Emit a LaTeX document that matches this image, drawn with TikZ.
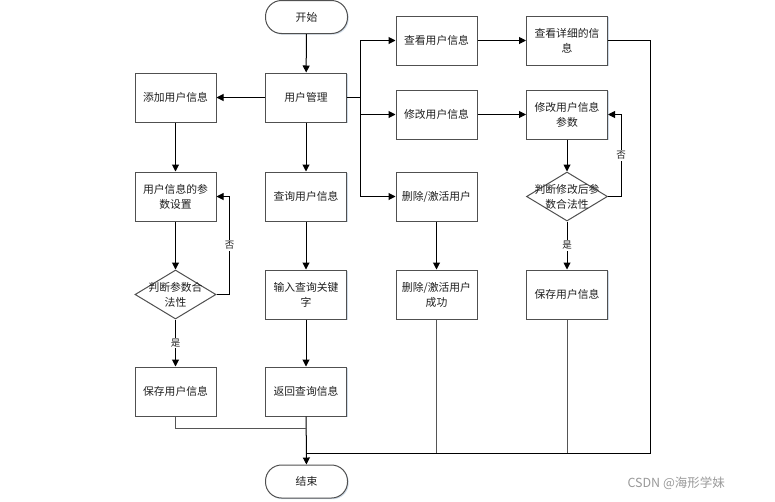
\documentclass[tikz,border=0pt]{standalone}
\usepackage{fontspec}
\setmainfont{Noto Sans CJK SC}
\usetikzlibrary{arrows.meta,shapes.geometric,shadows}
\definecolor{boxline}{HTML}{505050}
\definecolor{txt}{HTML}{202020}
\definecolor{joinline}{HTML}{555555}
\definecolor{shadowc}{HTML}{AFC3D8}
\begin{document}
\begin{tikzpicture}[x=1pt,y=-1pt,
  every node/.style={font=\fontsize{10.8}{15}\selectfont, text=txt},
  procbox/.style={draw=boxline, line width=1pt, fill=white, minimum width=81pt, minimum height=49pt, inner sep=0pt, align=center,
     drop shadow={shadow xshift=1.2pt, shadow yshift=-1.2pt, fill=shadowc, opacity=0.6}},
  termbox/.style={draw=boxline, line width=1pt, fill=white, minimum width=82pt, minimum height=33pt, inner sep=0pt, rounded corners=16pt,
     drop shadow={shadow xshift=1.2pt, shadow yshift=-1.2pt, fill=shadowc, opacity=0.6}},
  decbox/.style={diamond, draw=boxline, line width=1pt, fill=white, minimum width=81pt, minimum height=49pt, inner sep=0pt},
  conn/.style={draw=black, line width=1pt, -{Triangle[length=7pt,width=7pt]}},
  plain/.style={draw=black, line width=1pt},
  grayline/.style={draw=joinline, line width=1pt},
  edgelbl/.style={fill=white, inner sep=1pt, font=\fontsize{9.5}{10}\selectfont}
]
\useasboundingbox (0,0) rectangle (775,501);

% column 1
\node[termbox] (start) at (306.5,17) {开始};
\node[procbox] (umgr) at (306,97.5) {用户管理};
\node[procbox] (add) at (175.5,97.5) {添加用户信息};
\node[procbox] (param) at (175.5,196.5) {用户信息的参\\数设置};
\node[decbox, label={[align=center, font=\fontsize{10.8}{15}\selectfont, text=txt]center:判断参数合\\法性}] (judge1) at (175.5,294.5) {};
\node[procbox] (save1) at (175.5,391.5) {保存用户信息};
\node[procbox] (query) at (306,196.5) {查询用户信息};
\node[procbox] (input) at (306,294.5) {输入查询关键\\字};
\node[procbox] (ret) at (306,391.5) {返回查询信息};
\node[termbox] (end) at (306.5,481.5) {结束};

% column 3/4
\node[procbox] (view) at (436.5,40.5) {查看用户信息};
\node[procbox] (detail) at (567,40.5) {查看详细的信\\息};
\node[procbox] (modify) at (436.5,114.5) {修改用户信息};
\node[procbox] (modparam) at (567,114.5) {修改用户信息\\参数};
\node[procbox] (delete) at (436.5,196.5) {删除/激活用户};
\node[decbox, label={[align=center, font=\fontsize{10.8}{15}\selectfont, text=txt]center:判断修改后参\\数合法性}] (judge2) at (567,196.5) {};
\node[procbox] (delok) at (436.5,294.5) {删除/激活用户\\成功};
\node[procbox] (save2) at (567,294.5) {保存用户信息};

% watermark
\node[text=black!40, font=\fontsize{12.5}{14}\selectfont, anchor=west] (wm) at (624,483) {CSDN @海形学妹};

% join coordinates
\coordinate (bus) at (360,97.5);
\coordinate (joinL) at (306,428);
\coordinate (joinR) at (306,453);
\coordinate (rtop) at (650,40.5);
\coordinate (rbot) at (650,453);

% connectors
\draw[conn] (start) -- (umgr);
\draw[conn] (umgr) -- (add);
\draw[conn] (add) -- (param);
\draw[conn] (param) -- (judge1);
\draw[conn] (judge1) -- node[edgelbl] {是} (save1);
\draw[conn] (judge1.east) -- ++(13,0) |- node[pos=0.25, edgelbl] {否} (param.east);
\draw[conn] (umgr) -- (query);
\draw[conn] (query) -- (input);
\draw[conn] (input) -- (ret);
\draw[conn] (ret) -- (end);

\draw[plain] (umgr.east) -- (bus);
\draw[conn] (bus) |- (view.west);
\draw[conn] (bus) -- (modify.west -| bus) -- (modify.west);
\draw[conn] (bus) |- (delete.west);
\draw[conn] (view) -- (detail);
\draw[conn] (modify) -- (modparam);
\draw[conn] (modparam) -- (judge2);
\draw[conn] (judge2) -- node[edgelbl] {是} (save2);
\draw[conn] (judge2.east) -- ++(13,0) |- node[pos=0.25, edgelbl] {否} (modparam.east);
\draw[conn] (delete) -- (delok);

\draw[plain] (detail.east) -- (rtop) -- (rbot) -- (joinR);
\draw[grayline] (delok.south) -- (delok.south |- joinR);
\draw[grayline] (save2.south) -- (save2.south |- joinR);
\draw[grayline] (save1.south) |- (joinL);
\end{tikzpicture}
\end{document}
